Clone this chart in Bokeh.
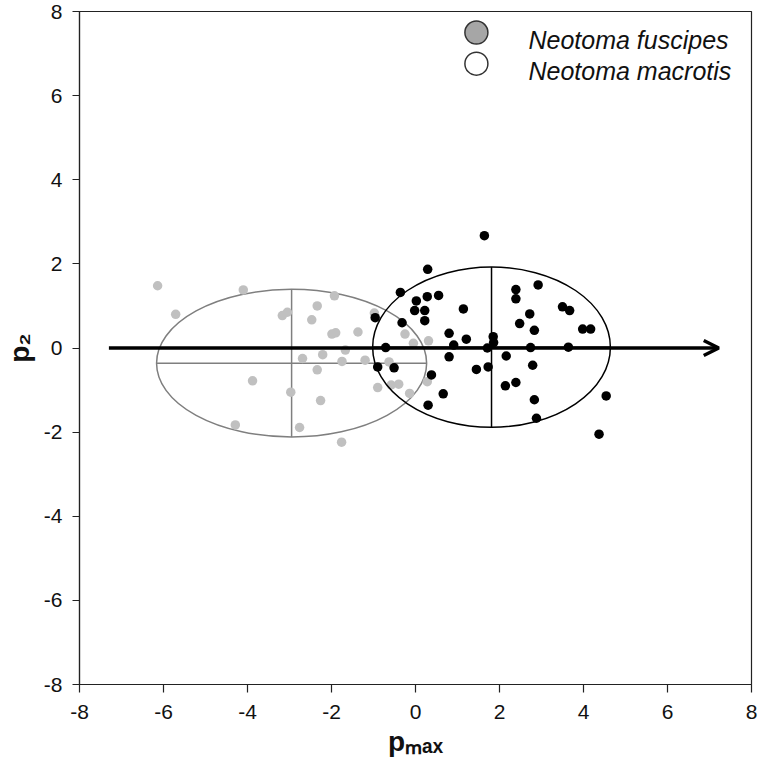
from bokeh.plotting import figure
from bokeh.models import Range1d, Label, Arrow, OpenHead, FixedTicker, CustomJSTickFormatter
from bokeh.embed import file_html
from bokeh.resources import INLINE

# ---- data ----
fus_x = [-6.14, -4.10, -5.71, -1.93, -2.34, -3.17, -3.05, -2.47, -0.98, -1.99, -1.90,
         -1.37, -0.25, -0.05, 0.31, -1.67, -2.21, -2.69, -1.75, -1.20, -0.63, -2.34,
         -3.88, -2.97, -2.26, -0.90, -0.58, -0.40, -0.14, 0.28, -4.29, -2.76, -1.76]
fus_y = [1.48, 1.38, 0.80, 1.24, 1.00, 0.77, 0.85, 0.67, 0.83, 0.33, 0.36,
         0.38, 0.33, 0.11, 0.17, -0.05, -0.16, -0.25, -0.32, -0.29, -0.33, -0.52,
         -0.78, -1.05, -1.25, -0.94, -0.88, -0.86, -1.08, -0.80, -1.83, -1.89, -2.24]

mac_x = [1.64, 0.29, -0.36, 0.02, 0.28, 0.55, -0.02, 0.22, 0.22, 1.14,
         -0.96, -0.32, 2.92, 2.39, 2.39, 3.50, 3.67, 2.72, 2.48, 2.83,
         3.98, 4.17, 0.80, 1.21, 0.91, 1.85, 1.86, 1.71, -0.71, 2.74,
         3.64, 0.80, 2.16, -0.90, -0.51, 1.73, 1.45, 2.79, 0.38, 2.14,
         2.39, 0.66, 4.54, 2.83, 0.30, 2.88, 4.37]
mac_y = [2.67, 1.87, 1.32, 1.12, 1.22, 1.25, 0.89, 0.89, 0.65, 0.93,
         0.72, 0.60, 1.50, 1.39, 1.17, 0.98, 0.89, 0.81, 0.58, 0.42,
         0.45, 0.45, 0.35, 0.21, 0.07, 0.27, 0.13, 0.00, 0.01, 0.01,
         0.02, -0.21, -0.19, -0.45, -0.47, -0.45, -0.51, -0.41, -0.64, -0.90,
         -0.82, -1.09, -1.14, -1.23, -1.36, -1.67, -2.05]

# ellipses: center x, center y, full width, full height
fus_ell = [-2.95, -0.36, 6.43, 3.51]
mac_ell = [1.81, 0.02, 5.66, 3.81]

arrow_x = [-7.30, 7.22]
ticks = [-8, -6, -4, -2, 0, 2, 4, 6, 8]
species = ["Neotoma fuscipes", "Neotoma macrotis"]
x_title = "p\u2098\u2090\u2093"   # p subscript max
y_title = "p\u2082"               # p subscript 2

FONT = "Liberation Sans"

p = figure(frame_width=672, frame_height=673,
           min_border_left=79, min_border_right=8, min_border_top=11, min_border_bottom=82,
           x_range=Range1d(-8, 8), y_range=Range1d(-8, 8),
           output_backend="svg", toolbar_location=None)
p.background_fill_color = "white"
p.border_fill_color = "white"
p.outline_line_color = "#222222"
p.outline_line_width = 1.2
p.grid.visible = False

fmt = CustomJSTickFormatter(code="return String(Math.round(tick));")
for ax in (p.xaxis[0], p.yaxis[0]):
    ax.ticker = FixedTicker(ticks=ticks)
    ax.formatter = fmt
    ax.minor_tick_line_color = None
    ax.major_tick_in = 0
    ax.axis_line_color = "#222222"
    ax.axis_line_width = 1.2
    ax.major_tick_line_color = "#222222"
    ax.major_tick_line_width = 1.2
    ax.major_label_text_font = FONT
    ax.major_label_text_font_size = "21px"
    ax.major_label_text_color = "#111111"
    ax.axis_label_text_font = FONT
    ax.axis_label_text_font_style = "bold"
    ax.axis_label_text_font_size = "28px"
    ax.axis_label_text_color = "#111111"
p.xaxis.major_tick_out = 8
p.xaxis.major_label_standoff = 12
p.yaxis.major_tick_out = 7
p.yaxis.major_label_standoff = 10
p.xaxis.axis_label = x_title
p.yaxis.axis_label = y_title
p.xaxis.axis_label_standoff = 4
p.yaxis.axis_label_standoff = 6


def ellipse_with_cross(e, color):
    cx, cy, w, h = e
    p.ellipse(x=[cx], y=[cy], width=[w], height=[h], fill_color=None,
              line_color=color, line_width=1.5)
    p.segment(x0=[cx, cx - w / 2], y0=[cy - h / 2, cy], x1=[cx, cx + w / 2], y1=[cy + h / 2, cy],
              line_color=color, line_width=1.5)


ellipse_with_cross(fus_ell, "#7f7f7f")
p.scatter(fus_x, fus_y, size=9.5, fill_color="#c0c0c0", line_color=None)
ellipse_with_cross(mac_ell, "#000000")

p.add_layout(Arrow(end=OpenHead(size=15, line_width=3.5, line_color="black"),
                   x_start=arrow_x[0], y_start=0, x_end=arrow_x[1], y_end=0,
                   line_width=3.5, line_color="black"))

p.scatter(mac_x, mac_y, size=9.5, fill_color="black", line_color=None)

# legend (manual)
leg_cx = 1.45
leg_cy = [7.50, 6.76]
leg_fill = ["#a6a6a6", "white"]
for cy, fc, name in zip(leg_cy, leg_fill, species):
    p.scatter([leg_cx], [cy], size=23, fill_color=fc, line_color="#333333", line_width=1.5)
    p.add_layout(Label(x=2.69, y=cy - 0.18, text=name, text_font=FONT,
                       text_font_style="italic", text_font_size="25px",
                       text_color="#111111", text_baseline="alphabetic", text_align="left"))

open("out.html", "w").write(file_html(p, INLINE))
